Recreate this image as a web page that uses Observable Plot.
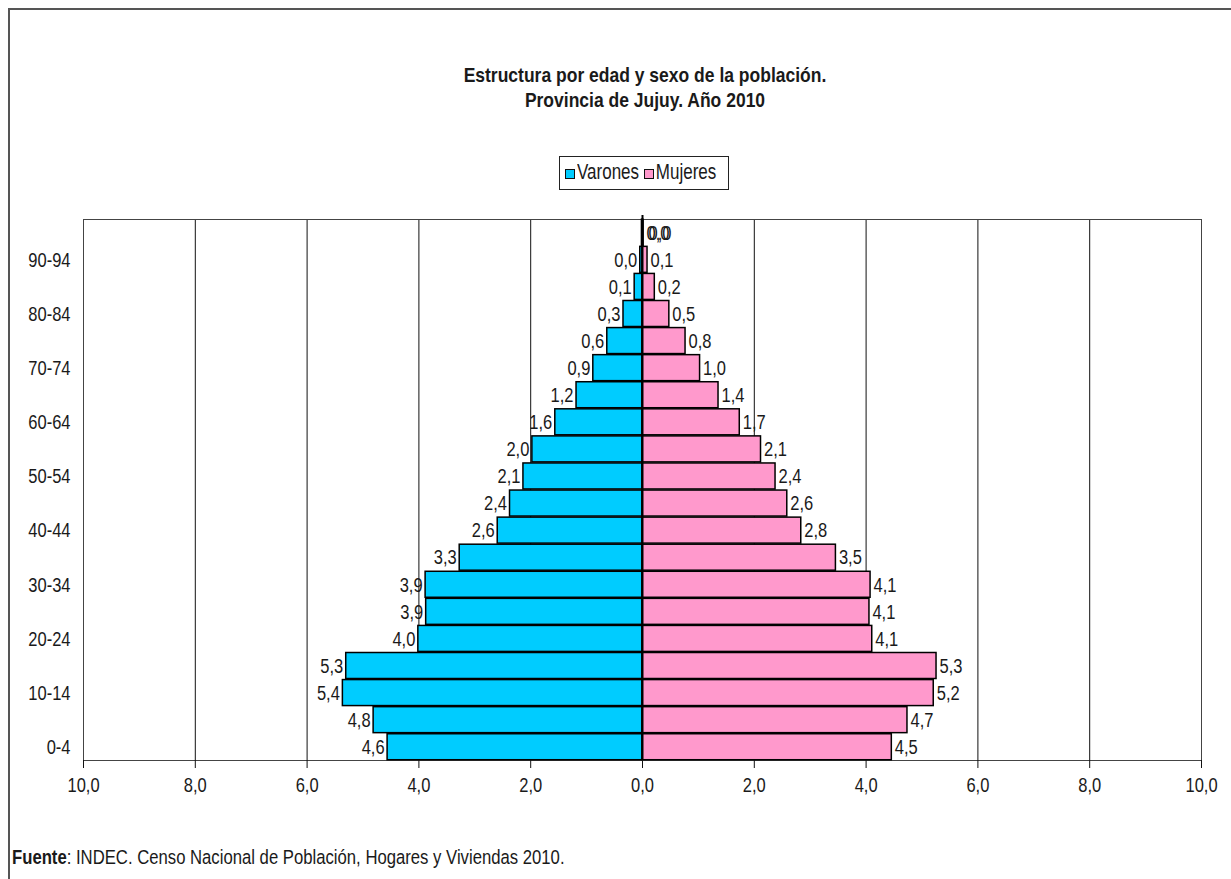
<!DOCTYPE html>
<html>
<head>
<meta charset="utf-8">
<script src="https://cdn.jsdelivr.net/npm/d3@7"></script>
<script src="https://cdn.jsdelivr.net/npm/@observablehq/plot@0.6"></script>
<style>
  html, body { margin: 0; padding: 0; background: #fff; }
  body { width: 1231px; height: 879px; position: relative; overflow: hidden;
         font-family: "Liberation Sans", Arial, sans-serif; color: #1a1a1a; }
  #frame { position: absolute; left: 8px; top: 8px; width: 1240px; height: 900px; border: 2px solid #555; box-sizing: border-box; }
  #title { position: absolute; left: 0; width: 1290px; top: 63px; text-align: center; font-weight: bold; font-size: 17.5px; line-height: 25px; }
  #title span { display: inline-block; transform: scaleY(1.15); }
  #legend { position: absolute; left: 559px; top: 156px; width: 170px; height: 34px; border: 1px solid #222; box-sizing: border-box;
            white-space: nowrap; font-size: 17px; line-height: 32px; padding-left: 5px; background: #fff; }
  #legend .t { display: inline-block; transform: scaleY(1.25); }
  #legend .sw { display: inline-block; width: 8px; height: 8px; border: 1.5px solid #111; margin-right: 2px; vertical-align: -1px; }
  #chart { position: absolute; left: 0; top: 200px; }
  #caption { position: absolute; left: 12px; top: 848px; font-size: 16.7px; white-space: nowrap; }
  #caption span.c { display: inline-block; transform: scaleY(1.2); }
</style>
</head>
<body>
<div id="frame"></div>
<div id="title"><span>Estructura por edad y sexo de la población.</span><br><span>Provincia de Jujuy. Año 2010</span></div>
<div id="legend"><span class="sw" style="background:#00CCFF"></span><span class="t">Varones</span> <span class="sw" style="background:#FF99CC"></span><span class="t">Mujeres</span></div>
<div id="chart"></div>
<div id="caption"><span class="c"><b>Fuente</b>: INDEC. Censo Nacional de Población, Hogares y Viviendas 2010.</span></div>
<script>
const ages = ["0-4","5-9","10-14","15-19","20-24","25-29","30-34","35-39","40-44","45-49",
              "50-54","55-59","60-64","65-69","70-74","75-79","80-84","85-89","90-94","95+"];
const varones = [4.56,4.81,5.36,5.30,4.01,3.87,3.88,3.27,2.59,2.37,2.13,1.97,1.56,1.18,0.88,0.63,0.34,0.14,0.04,0.01];
const mujeres = [4.46,4.74,5.21,5.26,4.11,4.06,4.08,3.46,2.84,2.59,2.38,2.12,1.74,1.36,1.03,0.77,0.48,0.22,0.09,0.02];
const yTickLabels = ["0-4","10-14","20-24","30-34","40-44","50-54","60-64","70-74","80-84","90-94"];
const xTicks = [-10,-8,-6,-4,-2,0,2,4,6,8,10];
const gridX = [-8,-6,-4,-2,2,4,6,8];

const data = ages.map((a, i) => ({age: a, m: varones[i], f: mujeres[i]}));
const fmt = v => Math.abs(v).toFixed(1).replace(".", ",");
const font = '"Liberation Sans", Arial, sans-serif';
const FS = 16.5;

const chart = Plot.plot({
  width: 1231,
  height: 600,
  marginLeft: 83,
  marginRight: 30,
  marginTop: 19,
  marginBottom: 40,
  style: {fontFamily: font, fontSize: FS + "px", color: "#1a1a1a", background: "transparent"},
  x: {domain: [-10, 10], label: null},
  y: {domain: ages.slice().reverse(), paddingInner: 0.04, paddingOuter: 0.01, round: false, label: null},
  marks: [
    Plot.ruleX(gridX, {stroke: "#111", strokeWidth: 1}),
    Plot.frame({stroke: "#444", strokeWidth: 1}),
    Plot.barX(data, {y: "age", x1: 0, x2: d => -d.m, fill: "#00CCFF", stroke: "#000", strokeWidth: 1.5}),
    Plot.barX(data, {y: "age", x1: 0, x2: "f", fill: "#FF99CC", stroke: "#000", strokeWidth: 1.5}),
    Plot.ruleX([0], {stroke: "#000", strokeWidth: 2, insetTop: -4}),
    Plot.text(data.filter(d => d.m >= 0.02), {y: "age", x: d => -d.m, text: d => fmt(d.m), textAnchor: "end", dx: -3, fill: "#1a1a1a", fontSize: FS}),
    Plot.text(data.filter(d => d.m < 0.02), {y: "age", x: 0, text: d => fmt(d.m), textAnchor: "start", dx: 6, fill: "#1a1a1a", fontSize: FS}),
    Plot.text(data, {y: "age", x: "f", text: d => fmt(d.f), textAnchor: "start", dx: 3, fill: "#1a1a1a", fontSize: FS}),
    Plot.axisX({ticks: xTicks, tickFormat: fmt, tickSize: 8, tickPadding: 8, stroke: "#111", fontSize: FS}),
    Plot.axisY({ticks: yTickLabels, tickSize: 0, tickPadding: 13, fontSize: FS})
  ]
});

// stretch glyphs vertically like the reference's tall narrow lettering
const isNum = v => v != null && /^-?[\d.]+$/.test(v.trim());
chart.querySelectorAll("text").forEach(t => {
  let pre = "";
  const x = t.getAttribute("x"), y = t.getAttribute("y");
  if (isNum(x) || isNum(y)) {
    const nx = isNum(x) ? x : 0, ny = isNum(y) ? y : 0;
    if (isNum(x)) t.removeAttribute("x");
    if (isNum(y)) t.removeAttribute("y");
    pre = ` translate(${nx},${ny})`;
  }
  const tr = t.getAttribute("transform") || "";
  t.setAttribute("transform", `${tr}${pre} scale(1,1.28)`);
});
document.getElementById("chart").appendChild(chart);
</script>
</body>
</html>
